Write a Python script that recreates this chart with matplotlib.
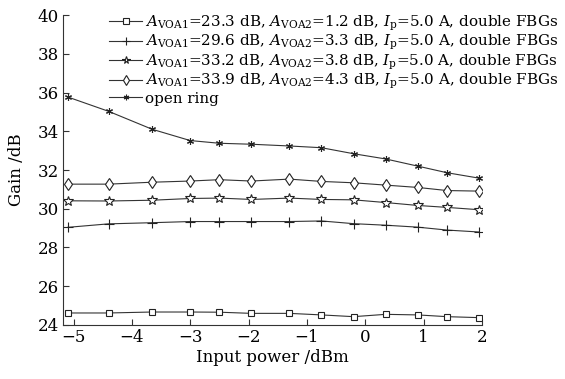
import matplotlib
matplotlib.use("Agg")
import matplotlib.pyplot as plt

plt.rcParams["font.family"] = ["DejaVu Serif"]
plt.rcParams["mathtext.fontset"] = "dejavuserif"

# input power (dBm), shared by all curves
power = [-5.1, -4.4, -3.65, -3.0, -2.5, -1.95, -1.3, -0.75, -0.2, 0.35, 0.9, 1.4, 1.95]

gain_voa23 = [24.62, 24.62, 24.67, 24.67, 24.66, 24.6, 24.6, 24.52, 24.43, 24.55, 24.52, 24.43, 24.38]
gain_voa29 = [29.04, 29.22, 29.28, 29.34, 29.34, 29.34, 29.34, 29.37, 29.23, 29.15, 29.05, 28.9, 28.8]
gain_voa33 = [30.41, 30.4, 30.44, 30.53, 30.55, 30.48, 30.55, 30.48, 30.46, 30.32, 30.17, 30.07, 29.95]
gain_voa34 = [31.27, 31.27, 31.37, 31.43, 31.5, 31.43, 31.53, 31.41, 31.34, 31.22, 31.1, 30.94, 30.91]
gain_open = [35.77, 35.03, 34.1, 33.52, 33.38, 33.33, 33.24, 33.15, 32.84, 32.57, 32.2, 31.86, 31.58]

labels = [
    r"$A_{\rm VOA1}$=23.3 dB, $A_{\rm VOA2}$=1.2 dB, $I_{\rm p}$=5.0 A, double FBGs",
    r"$A_{\rm VOA1}$=29.6 dB, $A_{\rm VOA2}$=3.3 dB, $I_{\rm p}$=5.0 A, double FBGs",
    r"$A_{\rm VOA1}$=33.2 dB, $A_{\rm VOA2}$=3.8 dB, $I_{\rm p}$=5.0 A, double FBGs",
    r"$A_{\rm VOA1}$=33.9 dB, $A_{\rm VOA2}$=4.3 dB, $I_{\rm p}$=5.0 A, double FBGs",
    "open ring",
]

fig = plt.figure(figsize=(5.65, 3.79), dpi=100)
ax = fig.add_axes([0.1115, 0.1425, 0.7415, 0.8179])

line_kw = dict(color="#333333", lw=0.8, mfc="white", mec="#222222", mew=0.8)
ax.plot(power, gain_voa23, marker="s", ms=5, label=labels[0], **line_kw)
ax.plot(power, gain_voa29, marker="+", ms=7, label=labels[1], **line_kw)
ax.plot(power, gain_voa33, marker="*", ms=7, label=labels[2], **line_kw)
ax.plot(power, gain_voa34, marker="d", ms=6, label=labels[3], **line_kw)
ax.plot(power, gain_open, marker=(6, 2, 0), ms=5, label=labels[4], **line_kw)

ax.set_xlim(-5.18, 2.0)
ax.set_ylim(24, 40)
ax.set_xticks(range(-5, 3))
ax.set_xticklabels([str(v).replace("-", "\u2212") for v in range(-5, 3)])
ax.set_yticks(range(24, 41, 2))

for s in ("top", "right"):
    ax.spines[s].set_visible(False)
for s in ("left", "bottom"):
    ax.spines[s].set_linewidth(0.8)
    ax.spines[s].set_color("#333333")
ax.tick_params(direction="in", length=4, width=0.8, color="#333333", labelsize=12, pad=3)

ax.set_xlabel("Input power /dBm", fontsize=12, labelpad=2)
ax.set_ylabel("Gain /dB", fontsize=12, labelpad=9)

ax.legend(loc="upper left", bbox_to_anchor=(0.095, 1.025), frameon=False, fontsize=10.9,
          handlelength=2.2, handletextpad=0.2, labelspacing=0.02, borderaxespad=0,
          markerscale=0.8)

fig.savefig("out.png", dpi=100)
